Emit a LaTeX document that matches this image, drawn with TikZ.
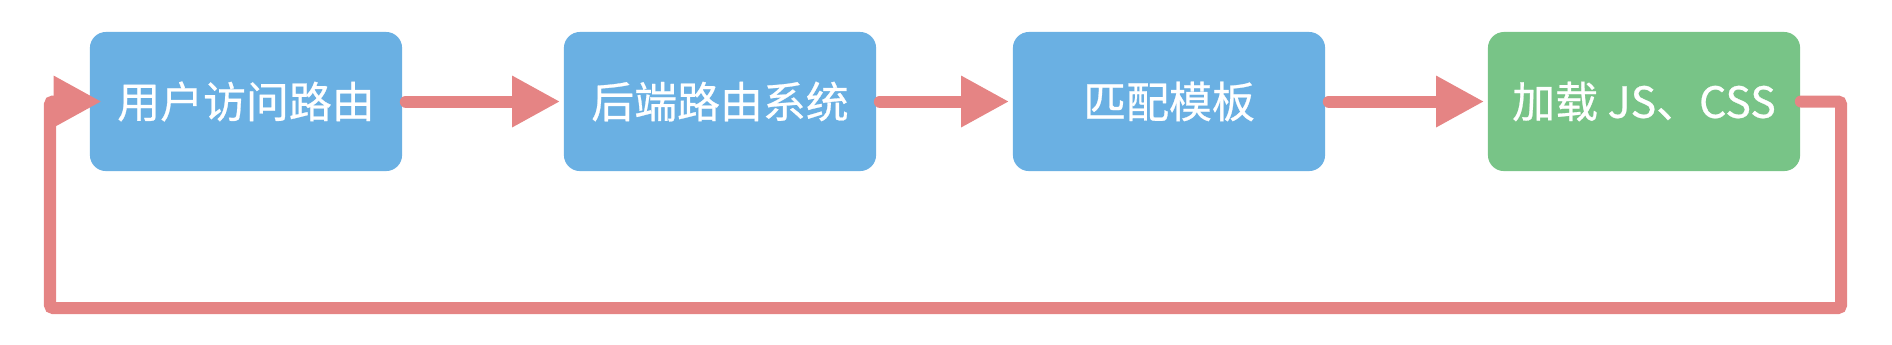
\documentclass[tikz,border=0pt]{standalone}
\usepackage{fontspec}
\setmainfont{Noto Sans CJK SC}
\newfontfamily\stagefont{Noto Sans CJK SC}[FakeBold=0.6]
\usetikzlibrary{arrows.meta}
\definecolor{stageblue}{RGB}{106,176,227}
\definecolor{stagegreen}{RGB}{120,196,135}
\definecolor{linkred}{RGB}{229,132,132}

\begin{document}
\begin{tikzpicture}[x=.01cm,y=-.01cm,
  stage/.style={rounded corners=.16cm,minimum width=3.12cm,minimum height=1.39cm,
    inner sep=0pt,text=white,font=\stagefont\fontsize{12.2pt}{14pt}\selectfont},
  link/.style={draw=linkred,line width=.12cm,line cap=round,
    -{Triangle[length=.48cm,width=.48cm]}}]
  \useasboundingbox (0,0) rectangle (1892,344);
  \node[stage,fill=stageblue] (visit) at (246,101.5) {用户访问路由};
  \node[stage,fill=stageblue] (backend) at (720,101.5) {后端路由系统};
  \node[stage,fill=stageblue] (match) at (1169,101.5) {匹配模板};
  \node[stage,fill=stagegreen] (assets) at (1644,101.5) {加载 JS、CSS};
  \draw[link,shorten <=.03cm,shorten >=.03cm] (visit) -- (backend);
  \draw[link,shorten <=.03cm,shorten >=.03cm] (backend) -- (match);
  \draw[link,shorten <=.03cm,shorten >=.03cm] (match) -- (assets);
  % loop back to the first stage
  \coordinate (loopR) at (1841,308);
  \coordinate (loopL) at (50,308);
  \draw[link,rounded corners=.03cm] (assets.east) -| (loopR) -- (loopL)
    |- ([xshift=.125cm]visit.west);
\end{tikzpicture}
\end{document}
